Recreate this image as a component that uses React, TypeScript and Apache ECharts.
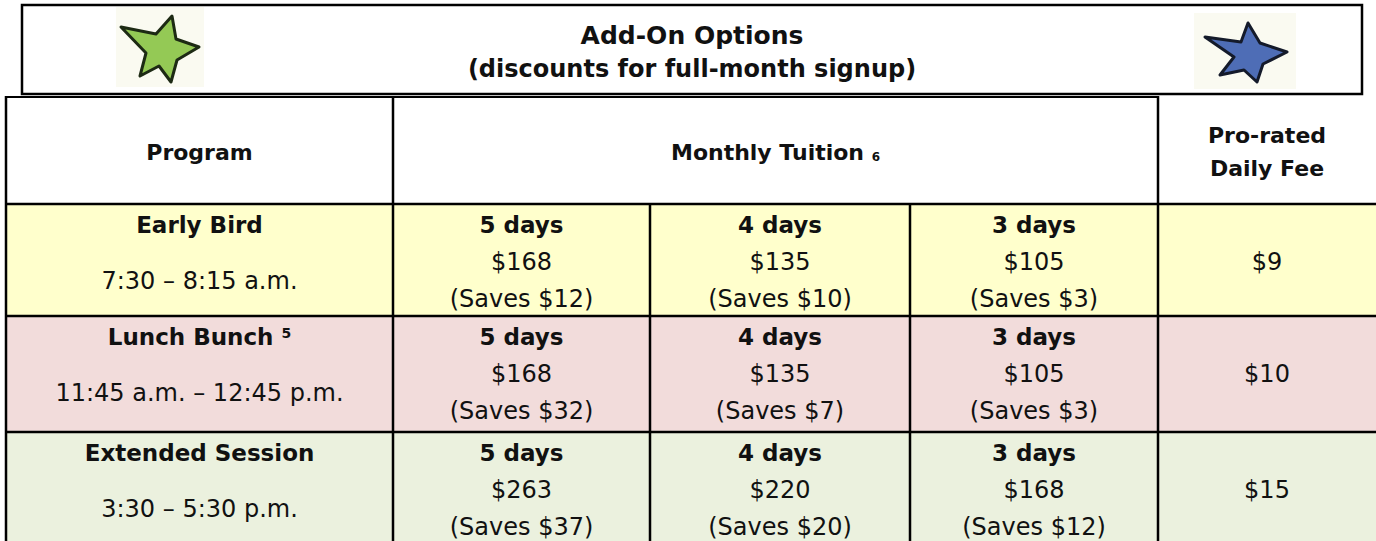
import React, { useEffect, useRef } from "react";
import * as echarts from "echarts";

// ---- data ----
const titleLines = ["Add-On Options", "(discounts for full-month signup)"];
const headerProgram = "Program";
const headerTuition = "Monthly Tuition";
const headerTuitionNote = "6";
const headerDaily = ["Pro-rated", "Daily Fee"];
const programs = ["Early Bird", "Lunch Bunch", "Extended Session"];
const programNotes = ["", "5", ""];
const times = ["7:30 – 8:15 a.m.", "11:45 a.m. – 12:45 p.m.", "3:30 – 5:30 p.m."];
const dayLabels = ["5 days", "4 days", "3 days"];
const tuition = [
  [168, 135, 105],
  [168, 135, 105],
  [263, 220, 168],
];
const savings = [
  [12, 10, 3],
  [32, 7, 3],
  [37, 20, 12],
];
const dailyFee = [9, 10, 15];
const rowColors = ["#FFFFCC", "#F2DCDB", "#EBF1DE"];

// ---- layout ----
const colX = [6, 393, 650, 910, 1158, 1376];
const rowY = [96, 204, 316, 432, 541];
const FONT = "'DejaVu Sans', sans-serif";
const INK = "#111";

const greenStar = [
  [121, 27], [156, 34], [172, 16], [176, 39], [199, 47], [177, 60],
  [171, 82], [159, 66], [140, 76], [146, 53],
];
const blueStar = [
  [1205, 37], [1241, 42], [1248, 23], [1260, 43], [1287, 52], [1263, 64],
  [1257, 82], [1244, 70], [1220, 75], [1234, 57],
];

function buildGraphics() {
  const els: any[] = [];
  const W = 1376;
  // row backgrounds
  for (let r = 0; r < 3; r++) {
    els.push({
      type: "rect",
      shape: { x: colX[0], y: rowY[r + 1], width: W - colX[0], height: rowY[r + 2] - rowY[r + 1] },
      style: { fill: rowColors[r] },
      silent: true,
    });
  }
  const line = (x1: number, y1: number, x2: number, y2: number, w = 2.5) =>
    els.push({
      type: "line",
      shape: { x1, y1, x2, y2 },
      style: { stroke: "#000", lineWidth: w },
      silent: true,
    });
  // vertical lines
  line(colX[0], rowY[0], colX[0], rowY[4]);
  line(colX[1], rowY[0], colX[1], rowY[4]);
  line(colX[4], rowY[0], colX[4], rowY[4]);
  line(colX[2], rowY[1], colX[2], rowY[4]);
  line(colX[3], rowY[1], colX[3], rowY[4]);
  // horizontal lines
  for (let r = 1; r <= 3; r++) line(colX[0], rowY[r], W, rowY[r]);
  line(colX[0], rowY[0] + 1, colX[4] + 1, rowY[0] + 1, 2);

  // title box
  els.push({
    type: "rect",
    shape: { x: 22, y: 5, width: 1340, height: 89 },
    style: { fill: "#fff", stroke: "#000", lineWidth: 2.5 },
    silent: true,
  });
  // star backgrounds
  els.push({ type: "rect", shape: { x: 116, y: 7, width: 88, height: 80 }, style: { fill: "#FAFAF1" }, silent: true });
  els.push({ type: "rect", shape: { x: 1194, y: 13, width: 102, height: 76 }, style: { fill: "#FAFAF1" }, silent: true });
  els.push({
    type: "polygon",
    shape: { points: greenStar },
    style: { fill: "#94C955", stroke: "#1d2a14", lineWidth: 3, lineJoin: "round" },
    silent: true,
  });
  els.push({
    type: "polygon",
    shape: { points: blueStar },
    style: { fill: "#4E6DB6", stroke: "#141a2a", lineWidth: 3, lineJoin: "round" },
    silent: true,
  });

  const text = (x: number, y: number, t: string, size: number, bold: boolean, extra: any = {}) =>
    els.push({
      type: "text",
      x,
      y,
      style: {
        text: t,
        fontFamily: FONT,
        fontSize: size,
        fontWeight: bold ? "bold" : "normal",
        fill: INK,
        align: "center",
        verticalAlign: "middle",
        ...extra,
      },
      silent: true,
    });

  // title
  text(692, 35, titleLines[0], 25, true);
  text(692, 69, titleLines[1], 24, true);

  // headers
  text((colX[0] + colX[1]) / 2, 152, headerProgram, 22, true);
  els.push({
    type: "text",
    x: (colX[1] + colX[4]) / 2,
    y: 152,
    style: {
      text: `{a|${headerTuition} }{b|${headerTuitionNote}}`,
      align: "center",
      verticalAlign: "middle",
      rich: {
        a: { fontFamily: FONT, fontSize: 22, fontWeight: "bold", fill: INK },
        b: { fontFamily: FONT, fontSize: 12, fontWeight: "bold", fill: INK, verticalAlign: "bottom" },
      },
    },
    silent: true,
  });
  text((colX[4] + W) / 2, 135, headerDaily[0], 22, true);
  text((colX[4] + W) / 2, 168, headerDaily[1], 22, true);

  // rows
  for (let r = 0; r < 3; r++) {
    const top = rowY[r + 1];
    const lineA = top + 21;
    const lineB = top + 58;
    const lineC = top + 95;
    const timeY = top + 77;
    const cx = (colX[0] + colX[1]) / 2;
    if (programNotes[r]) {
      els.push({
        type: "text",
        x: cx,
        y: lineA,
        style: {
          text: `{a|${programs[r]} }{b|${programNotes[r]}}`,
          align: "center",
          verticalAlign: "middle",
          rich: {
            a: { fontFamily: FONT, fontSize: 23, fontWeight: "bold", fill: INK },
            b: { fontFamily: FONT, fontSize: 14, fontWeight: "bold", fill: INK, verticalAlign: "top" },
          },
        },
        silent: true,
      });
    } else {
      text(cx, lineA, programs[r], 23, true);
    }
    text(cx, timeY, times[r], 24, false);
    for (let c = 0; c < 3; c++) {
      const x = (colX[c + 1] + colX[c + 2]) / 2;
      text(x, lineA, dayLabels[c], 23, true);
      text(x, lineB, `$${tuition[r][c]}`, 24, false);
      text(x, lineC, `(Saves $${savings[r][c]})`, 24, false);
    }
    text((colX[4] + W) / 2, lineB, `$${dailyFee[r]}`, 24, false);
  }
  return els;
}

export default function App() {
  const ref = useRef<HTMLDivElement>(null);
  useEffect(() => {
    if (!ref.current) return;
    const chart = echarts.init(ref.current, null, { renderer: "svg" });
    chart.setOption({
      animation: false,
      backgroundColor: "#ffffff",
      graphic: { elements: buildGraphics() },
    });
    return () => chart.dispose();
  }, []);
  return (
    <div
      ref={ref}
      style={{ position: "absolute", left: 0, top: 0, width: 1376, height: 541 }}
    />
  );
}
